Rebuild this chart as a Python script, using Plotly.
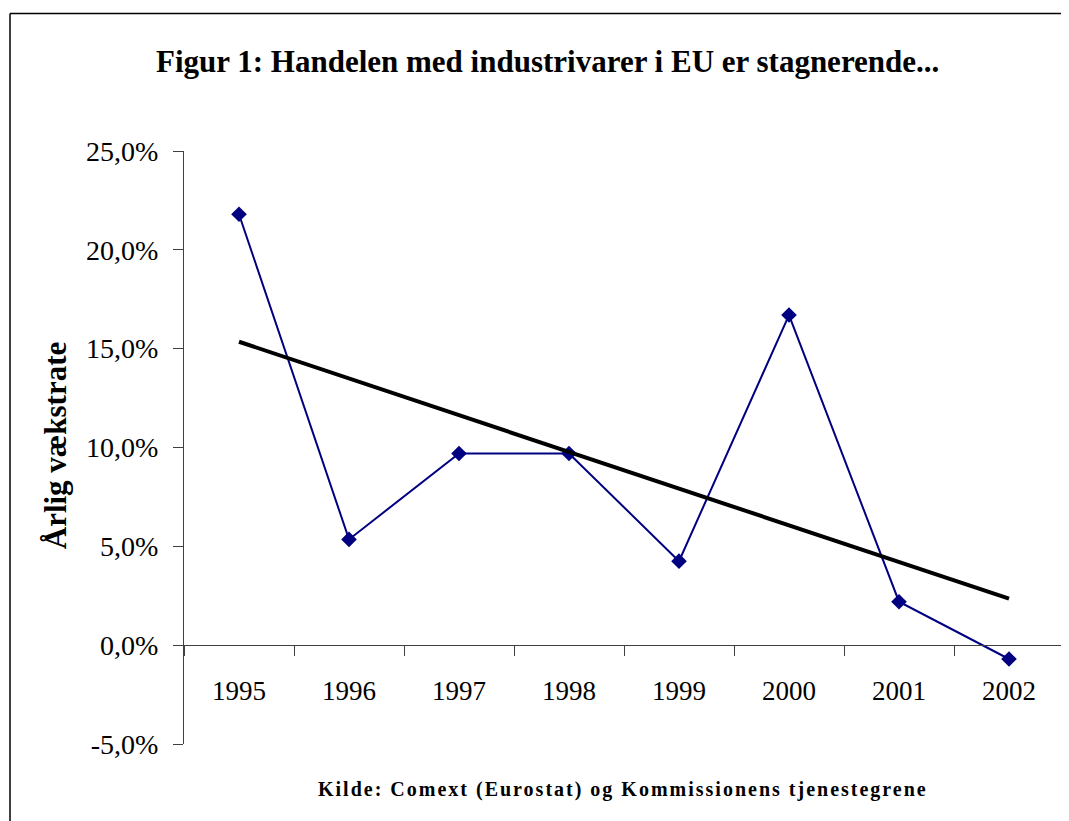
import plotly.graph_objects as go

years = ["1995", "1996", "1997", "1998", "1999", "2000", "2001", "2002"]
growth = [21.8, 5.35, 9.7, 9.7, 4.25, 16.7, 2.2, -0.7]
trend_years = ["1995", "2002"]
trend_vals = [15.35, 2.35]
y_ticks = [-5, 0, 5, 10, 15, 20, 25]
y_tick_labels = ["-5,0%", "0,0%", "5,0%", "10,0%", "15,0%", "20,0%", "25,0%"]

title_text = "Figur 1: Handelen med industrivarer i EU er stagnerende..."
y_title = "Årlig vækstrate"
source_text = "Kilde: Comext (Eurostat) og Kommissionens tjenestegrene"

OFF = 8  # page body margin
W, H = 1069 - OFF, 821 - OFF
L = 184 - OFF
T = 150.5 - OFF
R = W - (1064 - OFF)
B = H - (744 - OFF)
pw, ph = W - L - R, H - T - B

def px(x):
    return (x - OFF - L) / pw

def py(y):
    return (H - B - (y - OFF)) / ph

SERIF = "Liberation Serif, Times New Roman, serif"

fig = go.Figure()
fig.add_trace(go.Scatter(
    x=years, y=growth, mode="lines+markers",
    line=dict(color="#000080", width=2),
    marker=dict(symbol="diamond", size=12, color="#000080"),
    showlegend=False, cliponaxis=False,
))
fig.add_trace(go.Scatter(
    x=trend_years, y=trend_vals, mode="lines",
    line=dict(color="black", width=4),
    showlegend=False,
))

ymin, ymax = -5, 25
fig.update_layout(
    width=W, height=H,
    margin=dict(l=L, r=R, t=T, b=B, autoexpand=False),
    paper_bgcolor="white", plot_bgcolor="white",
    font=dict(family=SERIF, color="black"),
    xaxis=dict(
        type="category", categoryorder="array", categoryarray=years,
        range=[-0.5, len(years) - 0.5],
        anchor="free", position=(0 - ymin) / (ymax - ymin),
        showline=True, linecolor="#404040", linewidth=1,
        ticks="outside", ticklen=10, tickcolor="#404040",
        tickson="boundaries", showgrid=False, zeroline=False,
        tickfont=dict(size=27, family=SERIF), ticklabelstandoff=21,
    ),
    yaxis=dict(
        range=[ymin, ymax], tickmode="array",
        tickvals=y_ticks, ticktext=y_tick_labels,
        showline=True, linecolor="#404040", linewidth=1,
        ticks="outside", ticklen=10, tickcolor="#404040",
        showgrid=False, zeroline=False,
        tickfont=dict(size=28, family=SERIF), ticklabelstandoff=9,
    ),
    annotations=[
        dict(text="<b>" + title_text + "</b>", x=px(547), y=py(61),
             xref="paper", yref="paper", showarrow=False,
             xanchor="center", yanchor="middle",
             font=dict(size=31, family=SERIF)),
        dict(text="<b>" + y_title + "</b>", x=px(55), y=py(446),
             xref="paper", yref="paper", showarrow=False, textangle=-90,
             xanchor="center", yanchor="middle",
             font=dict(size=31, family=SERIF)),
        dict(text="<b>" + source_text + "</b>", x=px(623), y=py(790),
             xref="paper", yref="paper", showarrow=False,
             xanchor="center", yanchor="middle",
             font=dict(size=20, family=SERIF)),
    ],
    shapes=[
        dict(type="line", xref="paper", yref="paper",
             x0=px(10), y0=py(13), x1=px(1069 + 20), y1=py(13),
             line=dict(color="black", width=1.5)),
        dict(type="line", xref="paper", yref="paper",
             x0=px(10), y0=py(13), x1=px(10), y1=py(821 + 20),
             line=dict(color="black", width=1.5)),
    ],
)

post = """
document.querySelectorAll('.annotation-text').forEach(function(t){
  if (t.textContent.indexOf('Kilde') === 0) { t.style.letterSpacing = '2px'; }
});
"""
fig.write_html("out.html", post_script=post)
